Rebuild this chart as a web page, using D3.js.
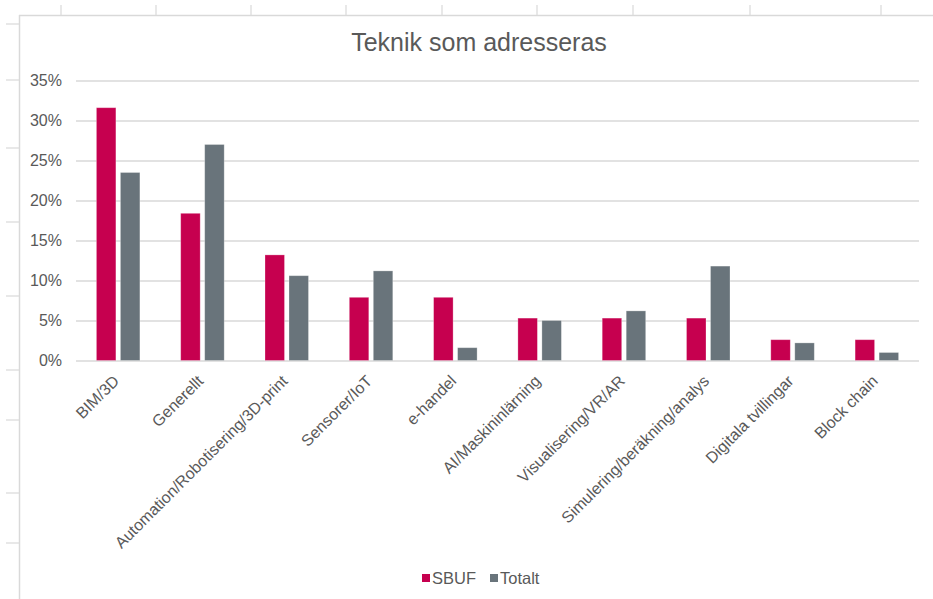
<!DOCTYPE html>
<html>
<head>
<meta charset="utf-8">
<script src="https://cdn.jsdelivr.net/npm/d3@7/dist/d3.min.js"></script>
<style>
  body { margin: 0; background: #fff; }
  svg { display: block; font-family: "Liberation Sans", Arial, sans-serif; }
</style>
</head>
<body>
<svg id="chart" width="933" height="599"></svg>
<script>
// chart data
var categories = ["BIM/3D", "Generellt", "Automation/Robotisering/3D-print", "Sensorer/IoT", "e-handel",
  "AI/Maskininlärning", "Visualisering/VR/AR", "Simulering/beräkning/analys", "Digitala tvillingar", "Block chain"];
var seriesNames = ["SBUF", "Totalt"];
var sbufValues = [0.316, 0.184, 0.132, 0.079, 0.079, 0.053, 0.053, 0.053, 0.026, 0.026];
var totaltValues = [0.235, 0.270, 0.106, 0.112, 0.016, 0.050, 0.062, 0.118, 0.022, 0.010];
var yTicks = [0, 0.05, 0.10, 0.15, 0.20, 0.25, 0.30, 0.35];
var titleText = "Teknik som adresseras";

var colors = {"SBUF": "#c6004f", "Totalt": "#69747b"};
var textColor = "#595959";
var gridColor = "#d9d9d9";

var svg = d3.select("#chart");

// spreadsheet lines behind the chart (screenshot background)
var sheetCols = [61, 156, 251, 346, 442, 537, 633, 750, 881];
var sheetRows = [24, 80, 148, 222, 296, 370, 420, 493, 543];
svg.selectAll("line.col").data(sheetCols).enter().append("line")
  .attr("x1", function(d){return d;}).attr("x2", function(d){return d;})
  .attr("y1", 5).attr("y2", 15).attr("stroke", gridColor).attr("stroke-width", 1.2);
svg.selectAll("line.row").data(sheetRows).enter().append("line")
  .attr("x1", 6).attr("x2", 19)
  .attr("y1", function(d){return d;}).attr("y2", function(d){return d;})
  .attr("stroke", gridColor).attr("stroke-width", 1.2);
svg.append("line").attr("x1", 19).attr("x2", 933).attr("y1", 15.5).attr("y2", 15.5)
  .attr("stroke", gridColor).attr("stroke-width", 1.5);
svg.append("line").attr("x1", 19.5).attr("x2", 19.5).attr("y1", 15).attr("y2", 599)
  .attr("stroke", gridColor).attr("stroke-width", 1.5);

// title
svg.append("text").attr("x", 479).attr("y", 51).attr("text-anchor", "middle")
  .attr("font-size", 25).attr("fill", textColor).text(titleText);

// scales
var x0 = d3.scaleBand().domain(categories).range([76, 919]);
var mid = x0.bandwidth() / 2;
var x1 = d3.scaleBand().domain(seriesNames).range([mid - 21.75, mid + 21.75]).paddingInner(0.1875);
var y = d3.scaleLinear().domain([0, 0.35]).range([360.5, 80.5]);

// gridlines + y labels
var yAxis = d3.axisLeft(y).tickValues(yTicks).tickFormat(d3.format(".0%"))
  .tickSize(-(919 - 76)).tickPadding(14);
var gy = svg.append("g").attr("transform", "translate(76,0)").call(yAxis);
gy.select(".domain").remove();
gy.selectAll(".tick line").attr("stroke", gridColor).attr("stroke-width", 1.5);
gy.selectAll(".tick text").attr("fill", textColor).attr("font-size", 16)
  .attr("font-family", "Liberation Sans, Arial, sans-serif");

// bars
var rows = categories.map(function(c, i){
  return {cat: c, values: [{key: "SBUF", v: sbufValues[i]}, {key: "Totalt", v: totaltValues[i]}]};
});
var groups = svg.selectAll("g.cat").data(rows).enter().append("g")
  .attr("class", "cat")
  .attr("transform", function(d){return "translate(" + x0(d.cat) + ",0)";});
groups.selectAll("rect").data(function(d){return d.values;}).enter().append("rect")
  .attr("x", function(d){return x1(d.key);})
  .attr("width", x1.bandwidth())
  .attr("y", function(d){return y(d.v);})
  .attr("height", function(d){return y(0) - y(d.v);})
  .attr("fill", function(d){return colors[d.key];})
  .attr("stroke", "#ffffff").attr("stroke-opacity", 0.35).attr("stroke-width", 0.8);

// category labels, rotated
svg.selectAll("text.cat").data(categories).enter().append("text")
  .attr("class", "cat")
  .attr("text-anchor", "end")
  .attr("font-size", 16)
  .attr("fill", textColor)
  .attr("transform", function(d){
    var cx = x0(d) + mid + 2;
    return "translate(" + cx + ",382) rotate(-45)";
  })
  .text(function(d){return d;});

// legend
var legend = svg.append("g");
var legendX = [422, 490];
seriesNames.forEach(function(s, i){
  legend.append("rect").attr("x", legendX[i]).attr("y", 574).attr("width", 8).attr("height", 8)
    .attr("fill", colors[s]);
  legend.append("text").attr("x", legendX[i] + 10).attr("y", 584)
    .attr("font-size", 16.5).attr("fill", textColor).text(s);
});
</script>
</body>
</html>
